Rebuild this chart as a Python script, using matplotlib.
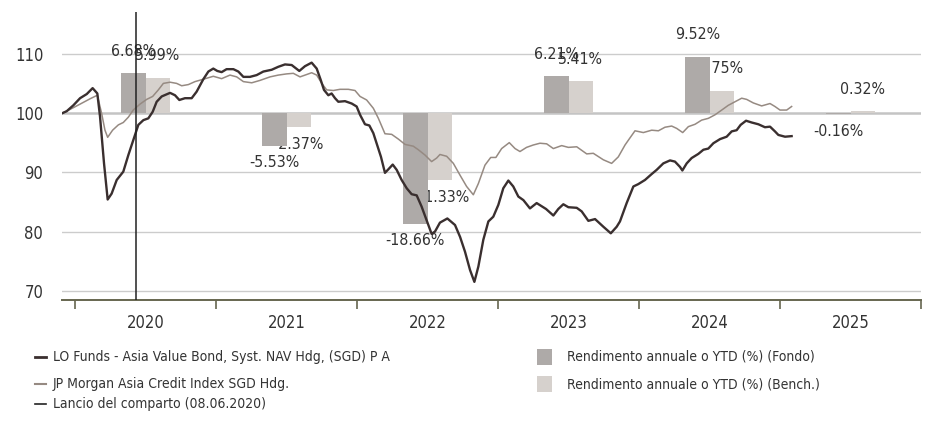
import matplotlib
matplotlib.use("Agg")
import matplotlib.pyplot as plt
from matplotlib import font_manager as fm
from matplotlib.lines import Line2D
from matplotlib.patches import Rectangle
import numpy as np

# pick a condensed face if one is installed
fonts = [(f.name, f.stretch) for f in fm.fontManager.ttflist]
names = {n for n, s in fonts}
shrink = 1.0
leg_shrink = 1.0
if "Liberation Sans Narrow" in names:
    plt.rcParams['font.family'] = ['Liberation Sans Narrow', 'DejaVu Sans']
elif any(n == "DejaVu Sans" and s in ("condensed", 300, "semi-condensed") for n, s in fonts):
    plt.rcParams['font.family'] = ['DejaVu Sans']
    plt.rcParams['font.stretch'] = 'condensed'
    shrink = 0.95
    leg_shrink = 0.95
else:
    plt.rcParams['font.family'] = ['Liberation Sans', 'DejaVu Sans']
    shrink = 0.86
    leg_shrink = 0.83

# months since 1 Jan 2020, indexed value
fund_m = [-1.05, -0.71, -0.14, 0.43, 1.0, 1.5, 1.9, 2.13, 2.47, 2.78, 3.12, 3.55, 4.11, 4.54, 4.96,
          5.39, 5.82, 6.24, 6.61, 6.95, 7.38, 8.09, 8.51, 8.88, 9.36, 9.93, 10.35, 10.92, 11.35, 11.77,
          12.11, 12.48, 12.9, 13.48, 13.9, 14.33, 14.89, 15.46, 16.03, 16.74, 17.3, 17.87, 18.44, 19.09,
          19.57, 20.14, 20.57, 20.91, 21.19, 21.56, 21.84, 22.13, 22.41, 22.98, 23.55, 23.97, 24.26,
          24.68, 25.05, 25.39, 25.67, 26.04, 26.38, 26.67, 27.04, 27.38, 27.8, 28.23, 28.65, 29.08,
          29.5, 29.93, 30.35, 30.64, 31.06, 31.69, 32.34, 32.77, 33.19, 33.62, 33.99, 34.33, 34.75,
          35.18, 35.6, 36.03, 36.45, 36.88, 37.3, 37.73, 38.16, 38.72, 39.29, 40.09, 40.71, 41.13,
          41.56, 41.99, 42.7, 43.12, 43.69, 44.26, 44.97, 45.6, 46.1, 46.38, 46.95, 47.52, 47.94,
          48.51, 49.08, 49.5, 50.07, 50.64, 51.06, 51.49, 51.69, 52.06, 52.48, 53.05, 53.48, 53.9,
          54.33, 54.9, 55.46, 55.89, 56.31, 56.65, 57.11, 57.59, 58.16, 58.72, 59.15, 59.57, 59.86,
          60.43, 60.99]
fund_v = [100, 100.3, 101.3, 102.5, 103.2, 104.2, 103.3, 99.4, 91.5, 85.4, 86.4, 88.7, 90.1, 92.9, 95.4,
          98.0, 98.8, 99.1, 100.2, 101.9, 102.8, 103.4, 103.0, 102.2, 102.5, 102.5, 103.6, 105.7, 107.0, 107.5,
          107.1, 106.9, 107.4, 107.4, 107.0, 106.1, 106.1, 106.4, 107.0, 107.3, 107.8, 108.2, 108.1, 107.1,
          107.9, 108.5, 107.5, 105.6, 103.9, 103.0, 103.3, 102.5, 101.9, 102.0, 101.6, 101.1, 99.7,
          98.1, 97.9, 96.6, 94.9, 92.6, 89.9, 90.5, 91.3, 90.4, 88.7, 87.3, 86.3, 86.1,
          84.2, 81.9, 79.6, 80.0, 81.5, 82.2, 81.1, 79.1, 76.6, 73.5, 71.5, 74.1, 78.6,
          81.7, 82.5, 84.5, 87.3, 88.6, 87.6, 85.9, 85.3, 83.9, 84.8, 83.8, 82.7, 83.8,
          84.6, 84.1, 84.0, 83.4, 81.8, 82.1, 80.8, 79.7, 80.8, 81.7, 84.8, 87.6, 88.0,
          88.7, 89.7, 90.4, 91.5, 92.0, 91.8, 90.9, 90.3, 91.5, 92.4, 93.1, 93.8, 94.0,
          94.9, 95.6, 96.0, 96.9, 97.1, 98.0, 98.7, 98.4, 98.1, 97.6, 97.7, 96.9, 96.3,
          96.0, 96.1]

bench_m = [-1.05, -0.43, 0.43, 1.28, 1.9, 2.27, 2.55, 2.78, 3.2, 3.69, 4.11, 4.54, 4.96, 5.53, 6.1,
           6.61, 7.09, 7.52, 8.09, 8.65, 9.08, 9.65, 10.21, 10.92, 11.77, 12.48, 13.19, 13.76, 14.33,
           15.04, 15.74, 16.6, 17.3, 18.0, 18.58, 19.15, 19.72, 20.14, 20.57, 21.0, 21.42, 21.99, 22.55,
           23.26, 23.83, 24.26, 24.82, 25.39, 25.82, 26.38, 26.95, 27.52, 28.09, 28.79, 29.22, 29.79,
           30.35, 30.78, 31.06, 31.63, 32.2, 32.77, 33.33, 33.9, 34.33, 34.89, 35.38, 35.82, 36.31,
           36.96, 37.45, 37.87, 38.43, 39.0, 39.57, 40.14, 40.71, 41.42, 41.99, 42.7, 43.55, 44.11,
           44.97, 45.67, 46.24, 46.81, 47.09, 47.66, 48.37, 49.08, 49.65, 50.21, 50.78, 51.21, 51.72,
           52.2, 52.77, 53.33, 53.9, 54.47, 55.04, 55.6, 56.17, 56.74, 57.16, 57.73, 58.44, 59.15,
           59.57, 60.0, 60.57, 60.99]
bench_v = [100, 100.6, 101.5, 102.4, 103.0, 99.9, 97.1, 95.9, 97.1, 98.0, 98.4, 99.3, 100.5, 101.5, 102.3,
           102.8, 103.9, 105.0, 105.2, 105.0, 104.6, 104.8, 105.3, 105.7, 106.2, 105.8, 106.4, 106.1, 105.3,
           105.1, 105.5, 106.1, 106.4, 106.6, 106.7, 106.1, 106.5, 106.8, 106.4, 105.0, 103.9, 103.8, 104.0,
           104.0, 103.8, 102.8, 102.2, 100.8, 99.1, 96.5, 96.4, 95.6, 94.7, 94.4, 93.8, 92.9,
           91.8, 92.4, 93.0, 92.7, 91.5, 89.5, 87.6, 86.2, 88.1, 91.2, 92.5, 92.5, 94.0,
           95.0, 94.0, 93.5, 94.2, 94.6, 94.9, 94.8, 94.0, 94.5, 94.2, 94.3, 93.1, 93.2,
           92.1, 91.5, 92.6, 94.6, 95.4, 97.0, 96.7, 97.1, 97.0, 97.6, 97.8, 97.4, 96.7,
           97.7, 98.1, 98.8, 99.1, 99.7, 100.5, 101.3, 101.9, 102.5, 102.3, 101.7, 101.2, 101.6,
           101.1, 100.5, 100.5, 101.1]

years = [2020, 2021, 2022, 2023, 2024, 2025]
fund_ret = [6.68, -5.53, -18.66, 6.21, 9.52, -0.16]
bench_ret = [5.99, -2.37, -11.33, 5.41, 3.75, 0.32]
launch = 2020 + (31 + 29 + 31 + 30 + 31 + 7) / 366

fund_name = "LO Funds - Asia Value Bond, Syst. NAV Hdg, (SGD) P A"
bench_name = "JP Morgan Asia Credit Index SGD Hdg."
launch_name = "Lancio del comparto (08.06.2020)"
bar_fund_name = "Rendimento annuale o YTD (%) (Fondo)"
bar_bench_name = "Rendimento annuale o YTD (%) (Bench.)"

c_fund = "#3a2f2f"
c_bench = "#968a82"
c_bar_fund = "#aeaaa8"
c_bar_bench = "#d6d1cd"
c_txt = "#333333"
c_axis = "#66664f"

fs_tick = 12.5 * shrink
fs_val = 12 * shrink
fs_leg = 10.5 * leg_shrink

fig = plt.figure(figsize=(9.28, 4.37), dpi=100)
ax = fig.add_axes([62 / 928, 1 - 300 / 437, (921 - 62) / 928, (300 - 11.7) / 437])

ax.set_xlim(2020 - 13 / 141, 2026)
ax.set_ylim(68.44, 117.1)

for g in [70, 80, 90, 110]:
    ax.axhline(g, color="#cccccc", lw=1, zorder=1)
ax.axhline(100, color="#c4c4c4", lw=1.8, zorder=1)

centers = np.array(years) + 0.5
w = 0.174

# value labels sit below the bars so overlapping parts get hidden
for c, fr, br in zip(centers, fund_ret, bench_ret):
    for xc, r in [(c - w / 2, fr), (c + w / 2, br)]:
        if r >= 0:
            ax.annotate(f"{r:.2f}%", (xc, 100 + r), xytext=(0, 15.8), textcoords="offset points",
                        ha="center", va="center", fontsize=fs_val, color=c_txt, zorder=2)
        else:
            ax.annotate(f"{r:.2f}%", (xc, 100 + r), xytext=(0, -12.3), textcoords="offset points",
                        ha="center", va="center", fontsize=fs_val, color=c_txt, zorder=2)

ax.bar(centers - w / 2, fund_ret, width=w, bottom=100, color=c_bar_fund, zorder=3)
ax.bar(centers + w / 2, bench_ret, width=w, bottom=100, color=c_bar_bench, zorder=3)

bx = 2020 + np.array(bench_m) / 12
fx = 2020 + np.array(fund_m) / 12
ax.plot(bx, bench_v, color=c_bench, lw=1.1, zorder=4)
ax.plot(fx, fund_v, color=c_fund, lw=1.7, zorder=5)

ax.axvline(launch, color="#222222", lw=1.1, zorder=6)

for s in ["top", "right", "left"]:
    ax.spines[s].set_visible(False)
ax.spines["bottom"].set_color(c_axis)
ax.spines["bottom"].set_linewidth(1.4)

ax.set_xticks(list(range(2020, 2027)))
ax.set_xticklabels([])
ax.set_xticks(centers, minor=True)
ax.set_xticklabels([str(y) for y in years], minor=True)
ax.tick_params(axis="x", which="major", length=6.3, width=1.2, color=c_axis, direction="out")
ax.tick_params(axis="x", which="minor", length=0, pad=10, labelsize=fs_tick, labelcolor=c_txt)

ax.set_yticks([70, 80, 90, 100, 110])
ax.tick_params(axis="y", length=0, pad=13.5, labelsize=fs_tick, labelcolor=c_txt)

# legend
def fy(p):
    return 1 - p / 437

for yy, col, lw, name in [(357, c_fund, 2.0, fund_name), (384, c_bench, 1.5, bench_name),
                          (404, "#222222", 1.2, launch_name)]:
    fig.add_artist(Line2D([35 / 928, 46 / 928], [fy(yy), fy(yy)], color=col, lw=lw))
    fig.text(53 / 928, fy(yy), name, fontsize=fs_leg, color=c_txt, va="center", ha="left")

for yy, col, name in [(357, c_bar_fund, bar_fund_name), (384, c_bar_bench, bar_bench_name)]:
    fig.add_artist(Rectangle((537 / 928, fy(yy + 8)), 15 / 928, 16 / 437, color=col, lw=0))
    fig.text(567 / 928, fy(yy), name, fontsize=fs_leg, color=c_txt, va="center", ha="left")

fig.savefig("out.png", dpi=100)
